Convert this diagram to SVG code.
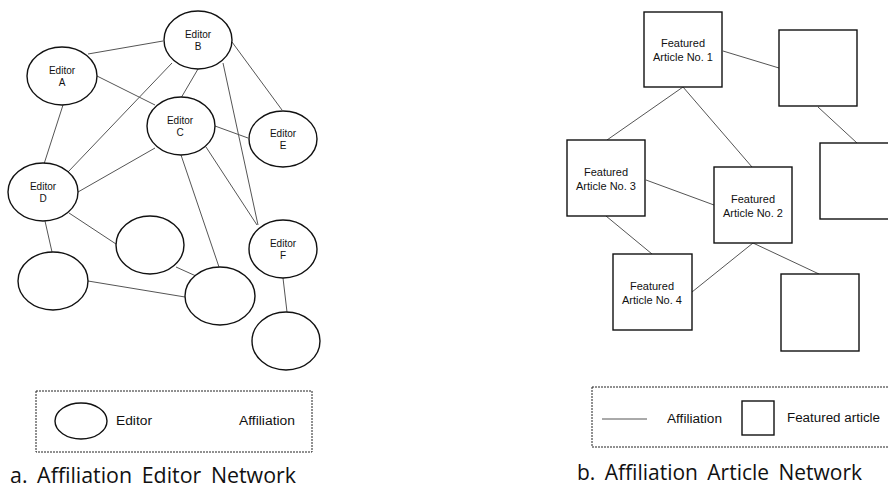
<svg xmlns="http://www.w3.org/2000/svg" width="888" height="489" viewBox="0 0 888 489">
  <style>
    .node { fill: #fff; stroke: #111; stroke-width: 1.4; }
    .edge { stroke: #555; stroke-width: 1; fill: none; }
    .lbl { font-family: "Liberation Sans", Arial, sans-serif; font-size: 10px; fill: #111; text-anchor: middle; }
    .albl { font-family: "Liberation Sans", Arial, sans-serif; font-size: 11px; fill: #111; text-anchor: middle; }
    .leg { font-family: "Liberation Sans", Arial, sans-serif; font-size: 12.5px; fill: #111; }
    .frame { fill: none; stroke: #222; stroke-width: 1; stroke-dasharray: 2 1; }
    .cap { font-family: "Open Sans", "Noto Sans", sans-serif; font-size: 21px; fill: #111; word-spacing: 4px; }
  </style>

  <!-- a. editor network: affiliation links -->
  <g id="editor-edges">
    <line class="edge" x1="88" y1="54" x2="163" y2="41"/>
    <line class="edge" x1="97" y1="76" x2="155" y2="105"/>
    <line class="edge" x1="63" y1="105" x2="44" y2="164"/>
    <line class="edge" x1="198" y1="69" x2="181" y2="98"/>
    <line class="edge" x1="172" y1="63" x2="68" y2="172"/>
    <line class="edge" x1="232" y1="42" x2="282" y2="110"/>
    <line class="edge" x1="223" y1="63" x2="258" y2="225"/>
    <line class="edge" x1="215" y1="126" x2="248" y2="138"/>
    <line class="edge" x1="155" y1="148" x2="78" y2="192"/>
    <line class="edge" x1="206" y1="147" x2="257" y2="225"/>
    <line class="edge" x1="181" y1="155" x2="219" y2="267"/>
    <line class="edge" x1="69" y1="213" x2="116" y2="244"/>
    <line class="edge" x1="45" y1="221" x2="52" y2="252"/>
    <line class="edge" x1="176" y1="267" x2="196" y2="276"/>
    <line class="edge" x1="88" y1="281" x2="185" y2="297"/>
    <line class="edge" x1="283" y1="278" x2="287" y2="312"/>
  </g>

  <!-- a. editor nodes -->
  <g id="editor-a">
    <ellipse class="node" cx="62" cy="76" rx="35" ry="29"/>
    <text class="lbl" x="62" y="73.5">Editor</text>
    <text class="lbl" x="62" y="85.5">A</text>
  </g>
  <g id="editor-b">
    <ellipse class="node" cx="198" cy="40" rx="34" ry="29"/>
    <text class="lbl" x="198" y="37.5">Editor</text>
    <text class="lbl" x="198" y="49.5">B</text>
  </g>
  <g id="editor-c">
    <ellipse class="node" cx="181" cy="126" rx="34" ry="29"/>
    <text class="lbl" x="180" y="123.5">Editor</text>
    <text class="lbl" x="180" y="135.5">C</text>
  </g>
  <g id="editor-d">
    <ellipse class="node" cx="43" cy="192" rx="35" ry="29"/>
    <text class="lbl" x="43" y="189.5">Editor</text>
    <text class="lbl" x="43" y="201.5">D</text>
  </g>
  <g id="editor-e">
    <ellipse class="node" cx="283" cy="139" rx="34" ry="28"/>
    <text class="lbl" x="283" y="137">Editor</text>
    <text class="lbl" x="283" y="149">E</text>
  </g>
  <g id="editor-f">
    <ellipse class="node" cx="283" cy="249" rx="34" ry="29"/>
    <text class="lbl" x="283" y="246.5">Editor</text>
    <text class="lbl" x="283" y="258.5">F</text>
  </g>
  <g id="editor-g">
    <ellipse class="node" cx="150" cy="245" rx="34" ry="29"/>
  </g>
  <g id="editor-h">
    <ellipse class="node" cx="53" cy="281" rx="35" ry="29"/>
  </g>
  <g id="editor-i">
    <ellipse class="node" cx="220" cy="296" rx="35" ry="29"/>
  </g>
  <g id="editor-j">
    <ellipse class="node" cx="286" cy="341" rx="34" ry="29"/>
  </g>

  <!-- a. legend -->
  <g id="legend-a">
    <rect class="frame" x="36" y="391" width="276" height="61"/>
    <ellipse class="node" cx="81" cy="421" rx="26" ry="18" stroke-width="1.2"/>
    <text class="leg" x="116" y="425" textLength="36" lengthAdjust="spacingAndGlyphs">Editor</text>
    <text class="leg" x="239" y="425" textLength="56" lengthAdjust="spacingAndGlyphs">Affiliation</text>
  </g>
  <text class="cap" x="10" y="483" textLength="286" lengthAdjust="spacingAndGlyphs">a. Affiliation Editor Network</text>

  <!-- b. article network: affiliation links -->
  <g id="article-edges">
    <line class="edge" x1="723" y1="51" x2="779" y2="68"/>
    <line class="edge" x1="683" y1="87" x2="607" y2="140"/>
    <line class="edge" x1="683" y1="87" x2="752" y2="167"/>
    <line class="edge" x1="818" y1="107" x2="857" y2="143"/>
    <line class="edge" x1="646" y1="180" x2="714" y2="205"/>
    <line class="edge" x1="606" y1="216" x2="652" y2="254"/>
    <line class="edge" x1="753" y1="243" x2="692" y2="292"/>
    <line class="edge" x1="753" y1="243" x2="819" y2="274"/>
  </g>

  <!-- b. article nodes -->
  <g id="article-1">
    <rect class="node" x="644" y="12" width="78" height="75"/>
    <text class="albl" x="683" y="47">Featured</text>
    <text class="albl" x="683" y="61">Article No. 1</text>
  </g>
  <g id="article-3">
    <rect class="node" x="567" y="140" width="78" height="76"/>
    <text class="albl" x="606" y="176">Featured</text>
    <text class="albl" x="606" y="190">Article No. 3</text>
  </g>
  <g id="article-2">
    <rect class="node" x="714" y="167" width="78" height="76"/>
    <text class="albl" x="753" y="203">Featured</text>
    <text class="albl" x="753" y="217">Article No. 2</text>
  </g>
  <g id="article-4">
    <rect class="node" x="613" y="254" width="79" height="76"/>
    <text class="albl" x="652" y="290">Featured</text>
    <text class="albl" x="652" y="304">Article No. 4</text>
  </g>
  <g id="article-5">
    <rect class="node" x="779" y="30" width="78" height="76"/>
  </g>
  <g id="article-6">
    <rect class="node" x="820" y="143" width="78" height="76"/>
  </g>
  <g id="article-7">
    <rect class="node" x="781" y="274" width="78" height="77"/>
  </g>

  <!-- b. legend -->
  <g id="legend-b">
    <rect class="frame" x="592" y="387" width="310" height="60"/>
    <line class="edge" x1="602" y1="419" x2="647" y2="419" stroke="#222"/>
    <text class="leg" x="667" y="423" textLength="55" lengthAdjust="spacingAndGlyphs">Affiliation</text>
    <rect class="node" x="742" y="401" width="32" height="34" stroke-width="1.2"/>
    <text class="leg" x="787" y="422" textLength="93" lengthAdjust="spacingAndGlyphs">Featured article</text>
  </g>
  <text class="cap" x="577" y="480" textLength="285" lengthAdjust="spacingAndGlyphs">b. Affiliation Article Network</text>
</svg>
